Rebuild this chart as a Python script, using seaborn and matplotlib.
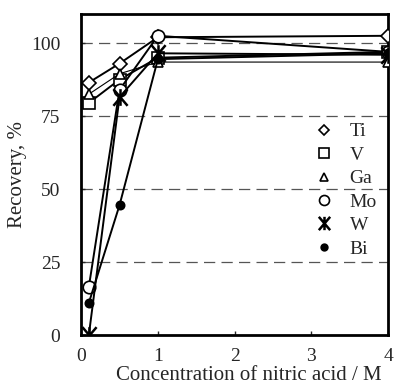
import matplotlib
matplotlib.use("Agg")
import matplotlib.pyplot as plt
import seaborn as sns
import pandas as pd
from matplotlib.lines import Line2D
from matplotlib.path import Path

sns.set_style("ticks")
plt.rcParams['font.family'] = ['Liberation Serif', 'DejaVu Serif']

conc = [0.1, 0.5, 1.0, 4.0]
ti = [86.5, 93.0, 102.0, 102.5]
v = [79.5, 87.5, 95.0, 97.0]
ga = [82.5, 89.5, 93.5, 93.5]
mo = [16.5, 84.0, 102.5, 97.0]
w = [0.0, 81.5, 96.5, 96.0]
bi = [11.0, 44.5, 94.5, 96.5]

elements = ["Ti", "V", "Ga", "Mo", "W", "Bi"]
series = [ti, v, ga, mo, w, bi]

star6 = Path([(-0.85, -1), (0.85, 1), (-0.85, 1), (0.85, -1), (0, -1), (0, 1)],
             [Path.MOVETO, Path.LINETO, Path.MOVETO, Path.LINETO, Path.MOVETO, Path.LINETO])

markers = ["D", "s", "^", "o", star6, "o"]
msizes = [7, 9, 7, 9, 12, 6]
fills = ["white", "white", "white", "white", "black", "black"]
mews = [1.2, 1.2, 1.2, 1.2, 1.8, 1.2]
lws = [1.4, 1.4, 0.8, 1.4, 1.4, 1.4]

yticks = [0, 25, 50, 75, 100]
xticks = [0, 1, 2, 3, 4]

rows = []
for el, vals in zip(elements, series):
    for c, val in zip(conc, vals):
        rows.append({"conc": c, "rec": val, "el": el})
df = pd.DataFrame(rows)

fig = plt.figure(figsize=(3.94, 3.86), dpi=100)
ax = fig.add_axes([0.206, 0.132, 0.779, 0.832])

for y in [25, 50, 75, 100]:
    ax.axhline(y, color="#555555", lw=0.9, ls=(0, (9, 5)), zorder=0)

handles = []
for el, m, ms, fc, lw, mew in zip(elements, markers, msizes, fills, lws, mews):
    sub = df[df["el"] == el]
    sns.lineplot(data=sub, x="conc", y="rec", ax=ax, color="black", lw=lw,
                 marker=m, markersize=ms, markerfacecolor=fc,
                 markeredgecolor="black", markeredgewidth=mew,
                 legend=False, zorder=3)
    handles.append(Line2D([], [], ls="none", marker=m, markersize=ms * 0.8,
                          markerfacecolor=fc, markeredgecolor="black",
                          markeredgewidth=mew, label=el))

ax.set_xlim(0, 4)
ax.set_ylim(0, 110)
ax.set_xticks(xticks)
ax.set_yticks(yticks)
ax.tick_params(axis="y", direction="in", length=3, width=1, labelsize=14, pad=15)
ax.tick_params(axis="x", direction="in", length=3, width=1, labelsize=14, pad=9)
for s in ax.spines.values():
    s.set_linewidth(2)
    s.set_color("black")
ax.set_xlabel("Concentration of nitric acid / M", fontsize=15)
ax.xaxis.set_label_coords(0.545, -0.097)
ax.set_ylabel("Recovery, %", fontsize=15)
ax.yaxis.set_label_coords(-0.175, 0.5)

ax.legend(handles=handles, loc="upper left", bbox_to_anchor=(0.735, 0.685),
          frameon=False, fontsize=14, handlelength=1.0, handletextpad=0.8,
          labelspacing=0.3, borderaxespad=0)

fig.savefig("out.png", dpi=100)
